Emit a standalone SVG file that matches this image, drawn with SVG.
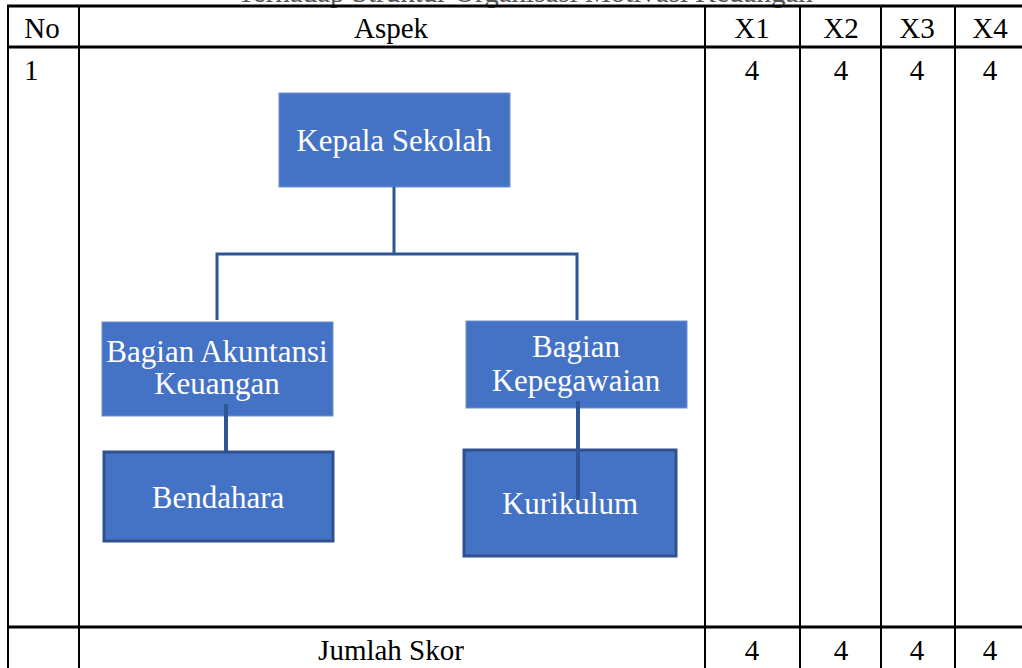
<svg xmlns="http://www.w3.org/2000/svg" width="1022" height="668" viewBox="0 0 1022 668">
<style>
.t{font-family:"Liberation Serif","Times New Roman",serif;font-size:29px;fill:#000}
.c{text-anchor:middle}
.grid{stroke:#000;stroke-width:2;fill:none}
.thick{stroke:#000;stroke-width:3;fill:none}
.box{fill:#4472C4;stroke:#6f8fd0;stroke-width:1}
.box2{fill:#4472C4;stroke:#2F528F;stroke-width:3}
.bt{font-family:"Liberation Serif","Times New Roman",serif;font-size:31px;fill:#fff;text-anchor:middle}
.conn{stroke:#2F5597;stroke-width:3;fill:none}
.conn2{stroke:#2F5597;stroke-width:4;fill:none}
</style>
<rect width="1022" height="668" fill="#fff"/>
<g id="title">
<text class="t c" x="525" y="1.5" style="fill:#555">Terhadap Struktur Organisasi Motivasi Keuangan</text>
</g>
<g id="table">
<line class="thick" x1="7" y1="6" x2="1022" y2="6"/>
<line class="thick" x1="7" y1="47" x2="1022" y2="47"/>
<line class="thick" x1="7" y1="627" x2="1022" y2="627"/>
<line class="grid" x1="8" y1="5" x2="8" y2="668"/>
<line class="grid" x1="79" y1="5" x2="79" y2="668"/>
<line class="grid" x1="705" y1="5" x2="705" y2="668"/>
<line class="grid" x1="800" y1="5" x2="800" y2="668"/>
<line class="grid" x1="881" y1="5" x2="881" y2="668"/>
<line class="grid" x1="955" y1="5" x2="955" y2="668"/>
<text class="t c" x="42" y="38">No</text>
<text class="t c" x="391" y="38">Aspek</text>
<text class="t c" x="752" y="38">X1</text>
<text class="t c" x="841" y="38">X2</text>
<text class="t c" x="917" y="38">X3</text>
<text class="t c" x="990" y="38">X4</text>
<text class="t" x="24" y="80">1</text>
<text class="t c" x="752" y="80">4</text>
<text class="t c" x="841" y="80">4</text>
<text class="t c" x="917" y="80">4</text>
<text class="t c" x="990" y="80">4</text>
<text class="t c" x="391" y="660">Jumlah Skor</text>
<text class="t c" x="752" y="660">4</text>
<text class="t c" x="841" y="660">4</text>
<text class="t c" x="917" y="660">4</text>
<text class="t c" x="990" y="660">4</text>
</g>
<g id="kepala">
<rect class="box" x="279" y="93" width="231" height="94"/>
<text class="bt" x="394" y="151">Kepala Sekolah</text>
</g>
<g id="akuntansi">
<rect class="box" x="102" y="322" width="231" height="94"/>
<text class="bt" x="217" y="362">Bagian Akuntansi</text>
<text class="bt" x="217" y="394">Keuangan</text>
</g>
<g id="kepegawaian">
<rect class="box" x="466" y="321" width="221" height="87"/>
<text class="bt" x="576" y="357">Bagian</text>
<text class="bt" x="576" y="391">Kepegawaian</text>
</g>
<g id="bendahara">
<rect class="box2" x="104" y="452" width="229" height="89"/>
<text class="bt" x="218" y="508">Bendahara</text>
</g>
<g id="kurikulum">
<rect class="box2" x="464" y="450" width="212" height="106"/>
<text class="bt" x="570" y="514">Kurikulum</text>
</g>
<g id="connectors">
<path class="conn" d="M394 187 V254 M217 320 V254 H577 V320"/>
<line class="conn2" x1="226" y1="404" x2="226" y2="451"/>
<line class="conn2" x1="578" y1="401" x2="578" y2="500"/>
</g>
</svg>
